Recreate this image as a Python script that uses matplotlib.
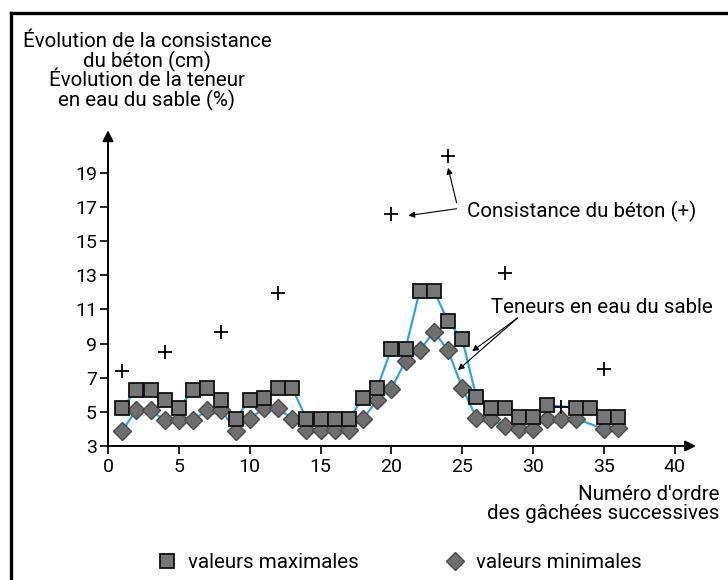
import matplotlib.pyplot as plt
from matplotlib.lines import Line2D

plt.rcParams['font.family'] = ['Roboto', 'DejaVu Sans']

# Numéro des gâchées et valeurs
gachees_max = [1, 2, 3, 4, 5, 6, 7, 8, 9, 10, 11, 12, 13, 14, 15, 16, 17, 18,
               19, 20, 21, 22, 23, 24, 25, 26, 27, 28, 29, 30, 31, 33, 34, 35, 36]
teneur_max = [5.2, 6.3, 6.3, 5.7, 5.2, 6.3, 6.4, 5.7, 4.6, 5.7, 5.8, 6.4, 6.4,
              4.6, 4.6, 4.6, 4.6, 5.8, 6.4, 8.7, 8.7, 12.1, 12.1, 10.3, 9.25,
              5.85, 5.25, 5.25, 4.7, 4.7, 5.4, 5.25, 5.25, 4.7, 4.7]

gachees_min = [1, 2, 3, 4, 5, 6, 7, 8, 9, 10, 11, 12, 13, 14, 15, 16, 17, 18,
               19, 20, 21, 22, 23, 24, 25, 26, 27, 28, 29, 30, 31, 32, 33, 35, 36]
teneur_min = [3.9, 5.1, 5.1, 4.5, 4.5, 4.5, 5.1, 5.1, 3.9, 4.6, 5.2, 5.2, 4.6,
              3.95, 3.95, 3.95, 3.95, 4.6, 5.7, 6.35, 8.0, 8.6, 9.7, 8.6, 6.4,
              4.65, 4.6, 4.15, 4.0, 4.0, 4.6, 4.6, 4.6, 4.0, 4.05]

gachees_cons = [1, 4, 8, 12, 20, 24, 28, 32, 35]
consistance = [7.4, 8.5, 9.65, 11.95, 16.6, 20.0, 13.15, 5.3, 7.5]

xticks = [0, 5, 10, 15, 20, 25, 30, 35, 40]
yticks = [3, 5, 7, 9, 11, 13, 15, 17, 19]

FS = 14.8

W, H = 728, 580
fig = plt.figure(figsize=(W / 100, H / 100), dpi=100)

# axes placed so that x=0 -> 108 px, y=3 -> 446 px
ax = fig.add_axes([108 / W, (H - 446) / H, (41.5 * 14.17) / W, (18.5 * 17.07) / H])
ax.set_xlim(0, 41.5)
ax.set_ylim(3, 21.5)

blue = '#2aa8e0'
ax.plot(gachees_max, teneur_max, color=blue, lw=1.6, zorder=2)
ax.plot(gachees_min, teneur_min, color=blue, lw=1.6, zorder=2)
ax.plot(gachees_min, teneur_min, ls='none', marker='D', ms=9.0, mfc='#6e6e6e',
        mec='#4a4a4a', mew=1.0, zorder=3)
ax.plot(gachees_max, teneur_max, ls='none', marker='s', ms=9.5, mfc='#767676',
        mec='#111111', mew=1.3, zorder=4)
ax.plot(gachees_cons, consistance, ls='none', marker='+', ms=10, mew=1.3,
        color='black', zorder=5)

for s in ax.spines.values():
    s.set_visible(False)
ax.set_xticks(xticks)
ax.set_yticks(yticks)
ax.tick_params(axis='both', direction='out', length=6, width=1.2,
               labelsize=14, colors='black')
ax.tick_params(axis='x', pad=3)
ax.tick_params(axis='y', pad=2)

# axes with arrows
ax.annotate('', xy=(1, 0), xytext=(0, 0), xycoords='axes fraction',
            arrowprops=dict(arrowstyle='-|>', color='black', lw=1.4,
                            mutation_scale=16, shrinkA=0, shrinkB=0))
ax.annotate('', xy=(0, 1), xytext=(0, 0), xycoords='axes fraction',
            arrowprops=dict(arrowstyle='-|>', color='black', lw=1.4,
                            mutation_scale=16, shrinkA=0, shrinkB=0))

# annotations
arr = dict(arrowstyle='-|>', color='black', lw=0.8, mutation_scale=9,
           shrinkA=0, shrinkB=0)
ax.text(25.3, 16.75, 'Consistance du béton (+)', fontsize=FS, va='center',
        ha='left')
ax.annotate('', xy=(24.0, 19.3), xytext=(24.6, 17.25), arrowprops=arr)
ax.annotate('', xy=(21.2, 16.5), xytext=(24.6, 16.9), arrowprops=arr)
ax.text(27.0, 11.1, 'Teneurs en eau du sable', fontsize=FS, va='center',
        ha='left')
ax.annotate('', xy=(25.7, 8.55), xytext=(28.9, 10.5), arrowprops=arr)
ax.annotate('', xy=(24.7, 7.45), xytext=(28.9, 10.5), arrowprops=arr)

# y title and x title
fig.text(147 / W, 1 - 32 / H,
         'Évolution de la consistance\ndu béton (cm)\nÉvolution de la teneur\nen eau du sable (%)',
         ha='center', va='top', fontsize=FS, linespacing=0.97)
fig.text(719 / W, 1 - 485 / H, "Numéro d'ordre\ndes gâchées successives",
         ha='right', va='top', fontsize=FS, linespacing=1.02)

# legend
h_max = Line2D([], [], ls='none', marker='s', ms=9.5, mfc='#767676',
               mec='#111111', mew=1.3)
h_min = Line2D([], [], ls='none', marker='D', ms=9.0, mfc='#6e6e6e',
               mec='#4a4a4a', mew=1.0)
fig.legend([h_max, h_min], ['valeurs maximales', 'valeurs minimales'],
           loc='center left', bbox_to_anchor=(157 / W, 17 / H), ncol=2,
           frameon=False, fontsize=FS, handlelength=1.0, handletextpad=0.53,
           columnspacing=4.15, borderpad=0, borderaxespad=0)

# figure frame (top and left)
fig.add_artist(Line2D([11 / W, 1], [1 - 13 / H, 1 - 13 / H], color='black',
                      lw=2.4, transform=fig.transFigure))
fig.add_artist(Line2D([11 / W, 11 / W], [0, 1 - 13 / H], color='black',
                      lw=2.4, transform=fig.transFigure))

fig.savefig('out.png', dpi=100)
